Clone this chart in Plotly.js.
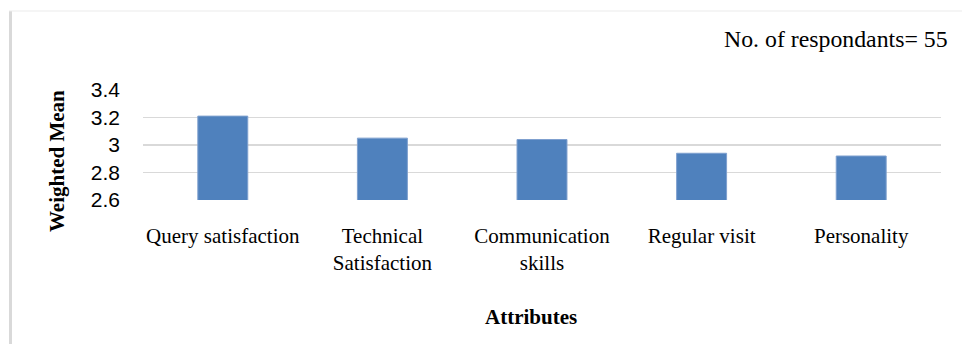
<!DOCTYPE html>
<html>
<head>
<meta charset="utf-8">
<script src="https://cdn.plot.ly/plotly-3.0.1.min.js"></script>
<style>html,body{margin:0;padding:0;background:#fff;}#chart{width:962px;height:344px;}</style>
</head>
<body>
<div id="chart"></div>
<script>
var categories = ["Query satisfaction", "Technical<br>Satisfaction", "Communication<br>skills", "Regular visit", "Personality"];
var weightedMean = [3.21, 3.05, 3.04, 2.94, 2.92];
var yTickVals = [2.6, 2.8, 3, 3.2, 3.4];
var yTickText = ["2.6", "2.8", "3", "3.2", "3.4"];

var W = 962, H = 344;
var M = {l: 143, r: 21, t: 90, b: 144};
var pw = W - M.l - M.r, ph = H - M.t - M.b;
function px(x) { return (x - M.l) / pw; }
function py(y) { return (H - M.b - y) / ph; }

var serif = "'Liberation Serif', 'Times New Roman', serif";
var sans = "'Liberation Sans', Arial, sans-serif";

var data = [{
  type: "bar",
  x: categories,
  y: weightedMean,
  marker: {color: "#4F81BD", line: {color: "#7FA0CF", width: 1}},
  hoverinfo: "x+y"
}];

var layout = {
  width: W, height: H,
  margin: M,
  paper_bgcolor: "#ffffff",
  plot_bgcolor: "#ffffff",
  showlegend: false,
  bargap: 0.687,
  xaxis: {
    type: "category",
    tickfont: {family: serif, size: 21, color: "#000"},
    showgrid: false, zeroline: false, showline: false,
    ticks: "", ticklabelstandoff: 21,
    tickangle: 0
  },
  yaxis: {
    range: [2.6, 3.4],
    tickvals: yTickVals, ticktext: yTickText,
    tickfont: {family: sans, size: 21, color: "#000"},
    showgrid: true, gridcolor: "#D9D9D9", gridwidth: 1.5,
    zeroline: false, showline: false, ticks: "",
    ticklabelstandoff: 22
  },
  annotations: [
    {text: "<b>Weighted Mean</b>", xref: "paper", yref: "paper", x: px(57), y: py(161),
     xanchor: "center", yanchor: "middle", textangle: -90, showarrow: false,
     font: {family: serif, size: 21, color: "#000"}},
    {text: "<b>Attributes</b>", xref: "paper", yref: "paper", x: px(531), y: py(317),
     xanchor: "center", yanchor: "middle", showarrow: false,
     font: {family: serif, size: 21, color: "#000"}},
    {text: "No. of respondants= 55", xref: "paper", yref: "paper", x: px(950), y: py(39),
     xanchor: "right", yanchor: "middle", showarrow: false,
     font: {family: serif, size: 23.8, color: "#000"}}
  ],
  shapes: [
    {type: "line", xref: "paper", yref: "paper", x0: px(10.5), x1: px(10.5), y0: py(11), y1: py(H + 5),
     line: {color: "#D9D9D9", width: 3}},
    {type: "line", xref: "paper", yref: "paper", x0: px(9), x1: px(W + 5), y0: py(11), y1: py(11),
     line: {color: "#EBEBEB", width: 1}}
  ]
};

Plotly.newPlot("chart", data, layout, {displayModeBar: false, staticPlot: true});
</script>
</body>
</html>
